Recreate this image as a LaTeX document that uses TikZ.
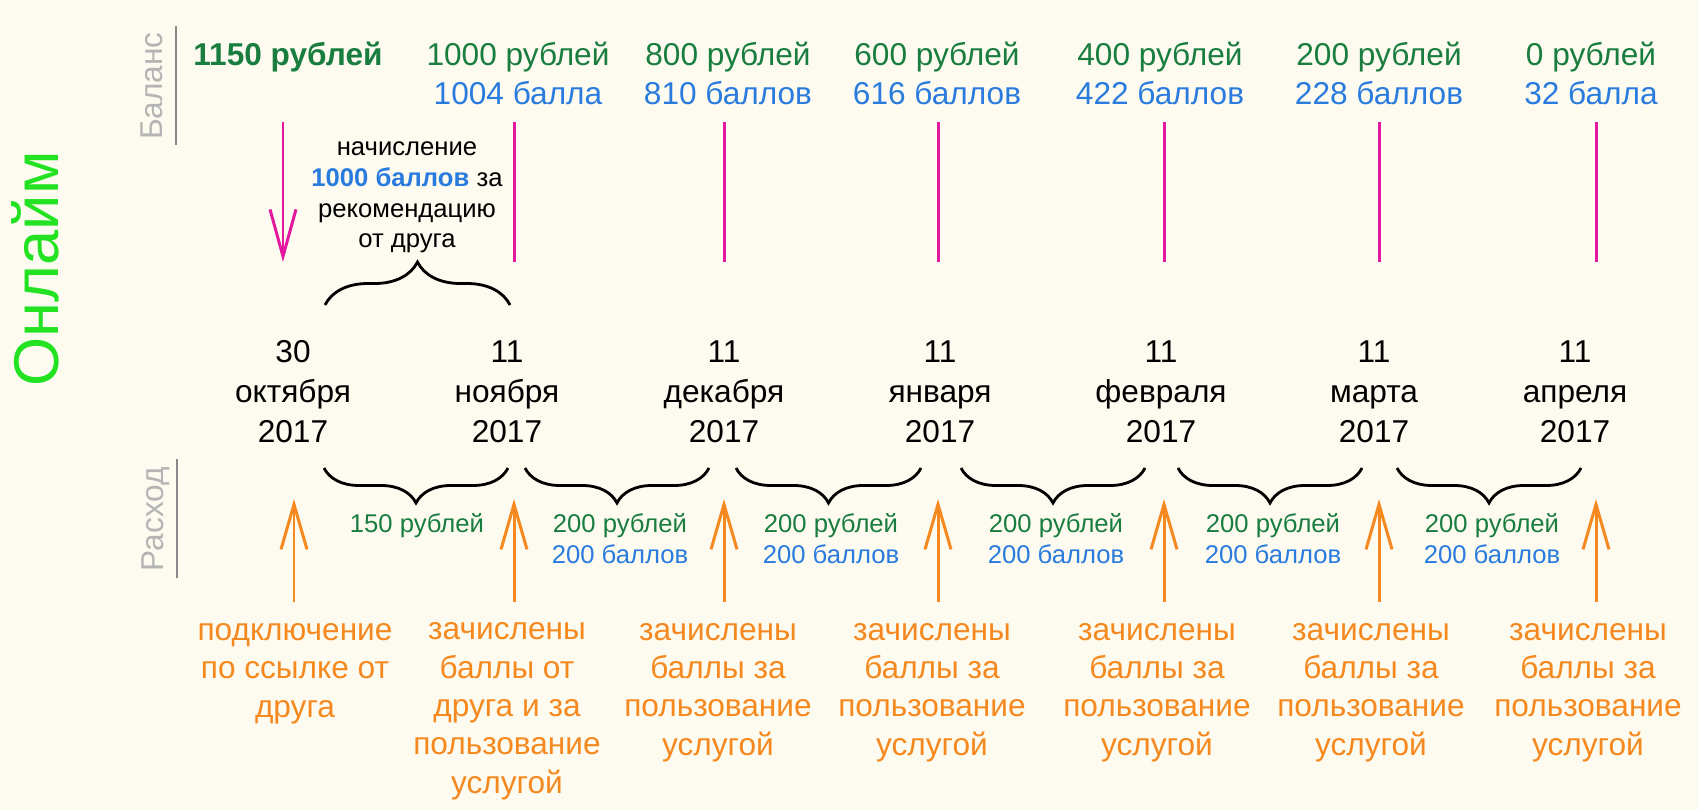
\documentclass[tikz,border=0pt]{standalone}
\usepackage{fontspec}
\setmainfont{Liberation Sans}
\usetikzlibrary{arrows.meta,decorations.pathreplacing}
\definecolor{bgcream}{HTML}{FDFBEF}
\definecolor{rubgreen}{HTML}{1A7D40}
\definecolor{ptsblue}{HTML}{2A7BDE}
\definecolor{balmagenta}{HTML}{E3189F}
\definecolor{actorange}{HTML}{F5891F}
\definecolor{titlegreen}{HTML}{22E222}
\definecolor{axisgray}{HTML}{B4B4B4}
\definecolor{axisline}{HTML}{888888}
\tikzset{
  big/.style={font=\fontsize{18}{22.5}\selectfont,inner sep=0pt,anchor=base,align=center},
  small/.style={font=\fontsize{14.6}{17.6}\selectfont,inner sep=0pt,anchor=base,align=center},
  acttext/.style={font=\fontsize{18}{21.8}\selectfont,text=actorange,inner sep=0pt,anchor=base,align=center},
  axislabel/.style={font=\fontsize{18}{18}\selectfont,text=axisgray,rotate=90,anchor=base,inner sep=0pt},
  balline/.style={draw=balmagenta,line width=1.7pt},
  actarrow/.style={draw=actorange,line width=1.7pt,-{Straight Barb[length=0.9cm,width=0.52cm]}},
  curly/.style={draw=black,line width=1.6pt,decorate,decoration={brace,amplitude=#1}},
  curly/.default=0.7cm
}
\begin{document}
\begin{tikzpicture}[x=0.02cm,y=-0.02cm]
\fill[bgcream] (0,0) rectangle (1699,810);
\useasboundingbox (0,0) rectangle (1699,810);

\node[font=\fontsize{36}{36}\selectfont,text=titlegreen,rotate=90,anchor=base,inner sep=0pt] (title) at (58,269) {Онлайм};
\node[axislabel] (balans) at (162,86) {Баланс};
\node[axislabel] (rashod) at (163,519) {Расход};
\draw[axisline,line width=1.7pt] (176,26) -- (176,145);
\draw[axisline,line width=1.7pt] (177,459) -- (177,578);

% balance (base = last line)
\node[big,text=rubgreen] (bal0) at (288,66) {\textbf{1150 рублей}};
\foreach \i/\x/\r/\p in {1/518/1000/1004 балла,2/728/800/810 баллов,3/937/600/616 баллов,4/1160/400/422 баллов,5/1379/200/228 баллов,6/1591/0/32 балла}
{
    \node[big] (bal\i) at (\x,105) {\textcolor{rubgreen}{\r\ рублей}\\\textcolor{ptsblue}{\p}};
}
\coordinate (mt0) at (283,122);
\coordinate (mb0) at (283,262);
\draw[balline,-{Straight Barb[length=0.94cm,width=0.52cm]}] (mt0) -- (mb0);
\foreach \i/\x in {1/514,2/724,3/938,4/1164,5/1379,6/1596}
{
    \coordinate (mt\i) at (\x,122);
    \coordinate (mb\i) at (\x,262);
    \draw[balline] (mt\i) -- (mb\i);
}
\node[small] (bonus) at (407,248) {начисление\\\textcolor{ptsblue}{\textbf{1000 баллов}} за\\рекомендацию\\от друга};
\draw[curly=0.86cm] (325,305) -- (510,305);

% dates
\foreach \i/\x/\d/\m in {0/293/30/октября,1/507/11/ноября,2/724/11/декабря,3/940/11/января,4/1161/11/февраля,5/1374/11/марта,6/1575/11/апреля}
{
    \node[big] (date\i) at (\x,442) {\d\\\m\\2017};
}

% spending
\foreach \a/\b in {324/508,525/709,736/921,961/1145,1178/1362,1397/1581}
{
    \draw[curly,decoration={mirror}] (\a,468) -- (\b,468);
}
\node[small,text=rubgreen] (cost1) at (417,532) {150 рублей};
\foreach \i/\x in {2/620,3/831,4/1056,5/1273,6/1492}
{
    \node[small] (cost\i) at (\x,563) {\textcolor{rubgreen}{200 рублей}\\\textcolor{ptsblue}{200 баллов}};
}
\foreach \i/\x in {0/294,1/514,2/724,3/938,4/1164,5/1379,6/1596}
{
    \coordinate (ab\i) at (\x,602);
    \coordinate (at\i) at (\x,499);
    \draw[actarrow] (ab\i) -- (at\i);
}
\node[acttext] (act0) at (295,717) {подключение\\по ссылке от\\друга};
\node[acttext] (act1) at (507,793) {зачислены\\баллы от\\друга и за\\пользование\\услугой};
\foreach \i/\x in {2/718,3/932,4/1157,5/1371,6/1588}
{
    \node[acttext] (act\i) at (\x,755) {зачислены\\баллы за\\пользование\\услугой};
}
\end{tikzpicture}
\end{document}
